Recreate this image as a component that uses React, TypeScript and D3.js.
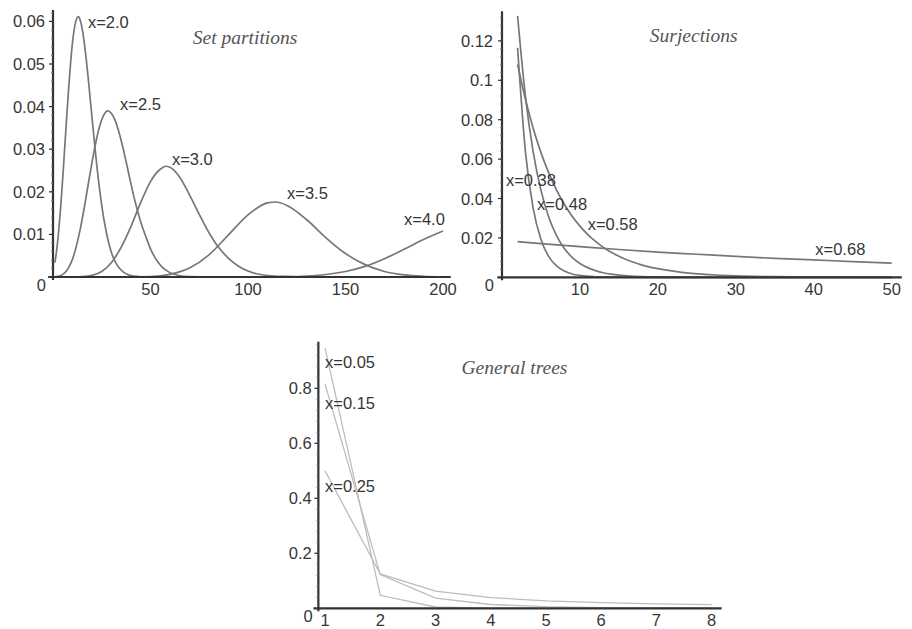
import React from "react";
import * as d3 from "d3";

// Set partitions (size n vs probability)
const setN20 = [1, 2, 3, 4, 5, 6, 7, 8, 9, 10, 11, 12, 13, 14, 15, 16, 17, 18, 19, 20, 22, 24, 26, 28, 30, 32, 34, 36, 38, 40, 43, 46, 50, 60, 80, 200];
const setP20 = [0.0034, 0.0067, 0.0112, 0.0168, 0.0233, 0.0303, 0.0374, 0.0441, 0.0501, 0.055, 0.0585, 0.0605, 0.0611, 0.0602, 0.0582, 0.0551, 0.0513, 0.0469, 0.0422, 0.0374, 0.0282, 0.0202, 0.0138, 0.0091, 0.0057, 0.0035, 0.0021, 0.0012, 0.00066, 0.00036, 0.00013, 0.00005, 0.00001, 0, 0, 0];
const setN25 = [1, 4, 6, 8, 10, 12, 14, 16, 18, 20, 22, 24, 26, 28, 30, 32, 34, 36, 38, 40, 42, 45, 48, 50, 52, 54, 56, 58, 60, 62, 65, 70, 80, 200];
const setP25 = [0.00004, 0.00034, 0.00096, 0.0022, 0.0042, 0.0073, 0.0113, 0.0162, 0.0216, 0.0269, 0.0317, 0.0355, 0.038, 0.039, 0.0384, 0.0366, 0.0337, 0.0301, 0.026, 0.0218, 0.0179, 0.0129, 0.009, 0.0066, 0.0048, 0.0034, 0.0023, 0.0016, 0.001, 0.0007, 0.0003, 0.0001, 0, 0];
const setN30 = [1, 10, 15, 20, 25, 30, 35, 40, 45, 50, 55, 58, 62, 65, 70, 75, 80, 85, 90, 95, 100, 105, 110, 120, 130, 200];
const setP30 = [0, 0.00001, 0.00008, 0.00038, 0.0013, 0.0034, 0.007, 0.0119, 0.0175, 0.0224, 0.0253, 0.026, 0.0251, 0.0234, 0.0193, 0.0147, 0.0104, 0.0069, 0.0044, 0.0026, 0.0014, 0.0007, 0.00035, 0.0001, 0, 0];
const setN35 = [1, 40, 50, 60, 70, 80, 90, 100, 110, 114, 120, 130, 140, 150, 160, 170, 180, 190, 200];
const setP35 = [0, 0.00003, 0.00011, 0.00063, 0.0021, 0.0052, 0.0099, 0.0146, 0.0174, 0.0176, 0.0168, 0.0135, 0.0092, 0.0055, 0.0029, 0.0013, 0.0005, 0.00018, 0.00006];
const setN40 = [1, 100, 110, 120, 130, 140, 150, 160, 170, 180, 190, 200];
const setP40 = [0, 0.00001, 0.00002, 0.00007, 0.00023, 0.00059, 0.0013, 0.0025, 0.0043, 0.0065, 0.0088, 0.0108];
const setTicksX = [50, 100, 150, 200];
const setTicksY = [0.01, 0.02, 0.03, 0.04, 0.05, 0.06];

// Surjections
const surN038 = [2, 3, 4, 5, 6, 7, 8, 9, 10, 12, 15, 20, 30, 50];
const surP038 = [0.1165, 0.0639, 0.035, 0.0192, 0.0105, 0.0058, 0.0032, 0.0017, 0.00095, 0.00029, 0.00005, 0, 0, 0];
const surN048 = [2, 3, 4, 5, 6, 7, 8, 9, 10, 11, 12, 13, 14, 15, 16, 18, 20, 25, 30, 50];
const surP048 = [0.1327, 0.092, 0.0637, 0.0441, 0.0305, 0.0212, 0.0146, 0.0101, 0.007, 0.0049, 0.0034, 0.0023, 0.0016, 0.0011, 0.0008, 0.00037, 0.00018, 0.00003, 0, 0];
const surN058 = [2, 3, 4, 5, 6, 7, 8, 9, 10, 11, 12, 13, 14, 15, 16, 17, 18, 19, 20, 22, 24, 26, 28, 30, 35, 40, 45, 50];
const surP058 = [0.108, 0.0905, 0.0757, 0.0633, 0.053, 0.0443, 0.0371, 0.031, 0.026, 0.0217, 0.0182, 0.0152, 0.0127, 0.0107, 0.0089, 0.0075, 0.0062, 0.0052, 0.0044, 0.0031, 0.0021, 0.0015, 0.00105, 0.00074, 0.0003, 0.00012, 0.00005, 0.00002];
const surN068 = [2, 5, 10, 15, 20, 25, 30, 35, 40, 45, 50];
const surP068 = [0.0181, 0.0171, 0.0156, 0.0141, 0.0128, 0.0117, 0.0106, 0.0096, 0.0088, 0.008, 0.0072];
const surTicksX = [10, 20, 30, 40, 50];
const surTicksY = [0.02, 0.04, 0.06, 0.08, 0.1, 0.12];

// General trees
const treeN = [1, 2, 3, 4, 5, 6, 7, 8];
const treeP005 = [0.947, 0.0474, 0.0047, 0.0006, 0.0001, 0, 0, 0];
const treeP015 = [0.816, 0.1224, 0.0367, 0.0138, 0.0058, 0.0026, 0.0012, 0.0006];
const treeP025 = [0.5, 0.125, 0.0625, 0.0391, 0.0273, 0.0205, 0.0161, 0.0131];
const treeTicksX = [1, 2, 3, 4, 5, 6, 7, 8];
const treeTicksY = [0.2, 0.4, 0.6, 0.8];

const sans = "Liberation Sans, Arial, sans-serif";
const serif = "Liberation Serif, Times New Roman, serif";
const textCol = "#363636";
const axisCol = "#333";

type Series = { n: number[]; p: number[]; label: string; lx: number; ly: number };

type PanelProps = {
  x: d3.ScaleLinear<number, number>;
  y: d3.ScaleLinear<number, number>;
  axisX: number; // data x where the vertical axis sits
  xEnd: [number, number];
  yTop: number;
  ticksX: number[];
  ticksY: number[];
  minorStep: number;
  series: Series[];
  title: string;
  tx: number;
  ty: number;
  stroke: string;
  strokeWidth: number;
  curve: d3.CurveFactory;
  labelGap: number;
};

const Panel = ({ x, y, axisX, xEnd, yTop, ticksX, ticksY, minorStep, series, title, tx, ty, stroke, strokeWidth, curve, labelGap }: PanelProps) => {
  const ax = x(axisX);
  const y0 = y(0);
  const minor = d3.range(minorStep, yTop, minorStep);
  return (
    <g>
      {series.map((s, i) => {
        const line = d3
          .line<number>()
          .x((d, j) => x(s.n[j]))
          .y((d) => y(d))
          .curve(curve);
        return <path key={i} d={line(s.p) || ""} fill="none" stroke={stroke} strokeWidth={strokeWidth} />;
      })}
      {/* axes */}
      <line x1={ax} x2={ax} y1={y(yTop)} y2={y0 + 3} stroke={axisCol} strokeWidth={2.2} />
      <line x1={x(xEnd[0])} x2={x(xEnd[1])} y1={y0} y2={y0} stroke={axisCol} strokeWidth={2.2} />
      {minor.map((v, i) => (
        <line key={"m" + i} x1={ax - 2} x2={ax} y1={y(v)} y2={y(v)} stroke="#777" strokeWidth={1} />
      ))}
      {ticksY.map((v) => (
        <g key={"ty" + v}>
          <line x1={ax - 4} x2={ax} y1={y(v)} y2={y(v)} stroke={axisCol} strokeWidth={1.2} />
          <text x={ax - labelGap} y={y(v)} textAnchor="end" dominantBaseline="central" fontFamily={sans} fontSize={16.5} fill={textCol}>
            {String(v)}
          </text>
        </g>
      ))}
      <text x={ax - labelGap + 1} y={y0 + 8} textAnchor="end" dominantBaseline="central" fontFamily={sans} fontSize={16.5} fill={textCol}>
        0
      </text>
      {ticksX.map((v) => (
        <text key={"tx" + v} x={x(v)} y={y0 + 11.5} textAnchor="middle" dominantBaseline="central" fontFamily={sans} fontSize={16.5} fill={textCol}>
          {String(v)}
        </text>
      ))}
      {series.map((s, i) => (
        <text key={"l" + i} x={x(s.lx)} y={y(s.ly)} dominantBaseline="central" fontFamily={sans} fontSize={16.5} fill={textCol}>
          {s.label}
        </text>
      ))}
      <text x={x(tx)} y={y(ty)} textAnchor="middle" dominantBaseline="central" fontFamily={serif} fontStyle="italic" fontSize={19.5} fill="#555">
        {title}
      </text>
    </g>
  );
};

const App = () => {
  const xA = d3.scaleLinear().domain([0, 200]).range([53, 443]);
  const yA = d3.scaleLinear().domain([0, 0.06]).range([277, 21.4]);
  const xB = d3.scaleLinear().domain([0, 50]).range([502, 891.7]);
  const yB = d3.scaleLinear().domain([0, 0.12]).range([277.3, 40.9]);
  const xC = d3.scaleLinear().domain([1, 8]).range([325, 711.7]);
  const yC = d3.scaleLinear().domain([0, 0.8]).range([608.3, 388.3]);

  const setSeries: Series[] = [
    { n: setN20, p: setP20, label: "x=2.0", lx: 17.9, ly: 0.0599 },
    { n: setN25, p: setP25, label: "x=2.5", lx: 34.4, ly: 0.0406 },
    { n: setN30, p: setP30, label: "x=3.0", lx: 61, ly: 0.0277 },
    { n: setN35, p: setP35, label: "x=3.5", lx: 120, ly: 0.0197 },
    { n: setN40, p: setP40, label: "x=4.0", lx: 180, ly: 0.0136 },
  ];
  const surSeries: Series[] = [
    { n: surN038, p: surP038, label: "x=0.38", lx: 0.5, ly: 0.0494 },
    { n: surN048, p: surP048, label: "x=0.48", lx: 4.5, ly: 0.0372 },
    { n: surN058, p: surP058, label: "x=0.58", lx: 11, ly: 0.0271 },
    { n: surN068, p: surP068, label: "x=0.68", lx: 40.2, ly: 0.0144 },
  ];
  const treeSeries: Series[] = [
    { n: treeN, p: treeP005, label: "x=0.05", lx: 1, ly: 0.897 },
    { n: treeN, p: treeP015, label: "x=0.15", lx: 1, ly: 0.748 },
    { n: treeN, p: treeP025, label: "x=0.25", lx: 1, ly: 0.446 },
  ];

  return (
    <svg width={912} height={629} style={{ position: "absolute", left: 0, top: 0, background: "#fff" }}>
      <rect width={912} height={629} fill="#fff" />
      <Panel x={xA} y={yA} axisX={0} xEnd={[-2.5, 204]} yTop={0.0627} ticksX={setTicksX} ticksY={setTicksY} minorStep={0.002}
        series={setSeries} title="Set partitions" tx={98.5} ty={0.0563} stroke="#777" strokeWidth={1.7} curve={d3.curveMonotoneX} labelGap={8} />
      <Panel x={xB} y={yB} axisX={0} xEnd={[-0.6, 51.3]} yTop={0.135} ticksX={surTicksX} ticksY={surTicksY} minorStep={0.004}
        series={surSeries} title="Surjections" tx={24.6} ty={0.1225} stroke="#777" strokeWidth={1.7} curve={d3.curveMonotoneX} labelGap={9} />
      <Panel x={xC} y={yC} axisX={0.88} xEnd={[0.79, 8.18]} yTop={0.969} ticksX={treeTicksX} ticksY={treeTicksY} minorStep={0.04}
        series={treeSeries} title="General trees" tx={4.43} ty={0.874} stroke="#bdbdbd" strokeWidth={1.3} curve={d3.curveLinear} labelGap={6.6} />
    </svg>
  );
};

export default App;
